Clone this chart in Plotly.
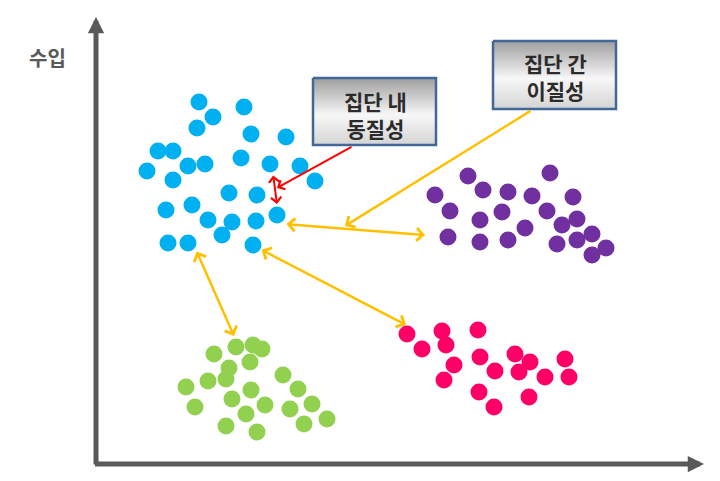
import plotly.graph_objects as go

# Cluster point positions (picture coordinates, y measured downward)
blue_x = [199, 213, 244, 197, 251, 286, 158, 173, 147, 188, 205, 173, 241, 270, 300, 315, 229, 257, 166, 192, 208, 232, 222, 256, 277, 168, 188, 253]
blue_y = [102, 117, 107, 128, 134, 137, 151, 151, 171, 166, 164, 180, 158, 164, 166, 181, 193, 195, 210, 205, 220, 222, 235, 221, 215, 243, 243, 245]

purple_x = [468, 550, 435, 483, 508, 532, 573, 450, 502, 547, 480, 562, 577, 525, 448, 480, 508, 557, 577, 592, 592, 606]
purple_y = [176, 173, 195, 190, 192, 196, 197, 211, 212, 211, 220, 225, 219, 228, 237, 242, 240, 244, 240, 234, 255, 248]

pink_x = [407, 442, 478, 422, 446, 454, 480, 515, 530, 565, 444, 495, 519, 545, 569, 479, 529, 494]
pink_y = [334, 331, 330, 349, 345, 365, 357, 354, 362, 359, 380, 371, 372, 377, 377, 392, 397, 407]

green_x = [214, 236, 253, 262, 250, 229, 208, 226, 186, 283, 298, 251, 232, 195, 265, 246, 290, 312, 304, 327, 226, 257]
green_y = [354, 347, 345, 349, 362, 368, 381, 379, 387, 375, 389, 390, 399, 407, 405, 414, 409, 404, 424, 419, 426, 432]

axis_label = "수입"
box1_lines = ["집단 내", "동질성"]
box2_lines = ["집단 간", "이질성"]

FONT = "Noto Sans CJK KR"

fig = go.Figure()

# Gradient label boxes
def add_box(x0, x1, y0, y1):
    fig.add_trace(go.Scatter(
        x=[x0, x1, x1, x0, x0], y=[y0, y0, y1, y1, y0],
        mode="lines", fill="toself",
        fillgradient=dict(type="vertical",
                          colorscale=[[0, "#d4d4d4"], [0.45, "#f7f7f7"], [1, "#9e9e9e"]]),
        line=dict(color="#42689A", width=2.5),
        hoverinfo="skip", showlegend=False))

add_box(313, 436, 78, 145)
add_box(493, 616, 41, 109)

for xs, ys, col in [(blue_x, blue_y, "#00B0F0"), (purple_x, purple_y, "#7030A0"),
                    (pink_x, pink_y, "#FF0066"), (green_x, green_y, "#92D050")]:
    fig.add_trace(go.Scatter(x=xs, y=ys, mode="markers",
                             marker=dict(color=col, size=17, line=dict(width=0)),
                             showlegend=False, hoverinfo="skip"))

ann = []
# axes with arrowheads
ann.append(dict(x=96, y=17, ax=96, ay=466, xref="x", yref="y", axref="x", ayref="y",
                text="", showarrow=True, arrowhead=2, arrowsize=0.65, arrowwidth=5, arrowcolor="#595959"))
ann.append(dict(x=704, y=464, ax=93.5, ay=464, xref="x", yref="y", axref="x", ayref="y",
                text="", showarrow=True, arrowhead=2, arrowsize=0.65, arrowwidth=5, arrowcolor="#595959"))

def arrow(x, y, ax, ay, color, both=False, width=2.5):
    d = dict(x=x, y=y, ax=ax, ay=ay, xref="x", yref="y", axref="x", ayref="y",
             text="", showarrow=True, arrowhead=4, arrowsize=1, arrowwidth=width,
             arrowcolor=color, standoff=0)
    if both:
        d.update(arrowside="end+start", startarrowhead=4, startarrowsize=1)
    ann.append(d)

ORANGE = "#FFC000"
RED = "#FF0000"
arrow(277, 188, 353, 146, RED, width=2)
arrow(277, 204, 273, 174, RED, both=True, width=2)
arrow(345, 226, 532, 110, ORANGE)
arrow(425, 235, 285, 224, ORANGE, both=True)
arrow(234, 336, 196, 250, ORANGE, both=True)
arrow(406, 325, 260, 249, ORANGE, both=True)

# texts
ann.append(dict(x=47, y=57, xref="x", yref="y", text="<b>" + axis_label + "</b>", showarrow=False,
                font=dict(family=FONT, size=20, color="#595959")))
ann.append(dict(x=375, y=114, xref="x", yref="y", text="<b>" + "<br>".join(box1_lines) + "</b>",
                showarrow=False, font=dict(family=FONT, size=21, color="#2b2b2b")))
ann.append(dict(x=555, y=76, xref="x", yref="y", text="<b>" + "<br>".join(box2_lines) + "</b>",
                showarrow=False, font=dict(family=FONT, size=21, color="#2b2b2b")))

fig.update_layout(
    width=720, height=481,
    margin=dict(l=0, r=0, t=0, b=0),
    paper_bgcolor="white", plot_bgcolor="white",
    xaxis=dict(range=[0, 720], visible=False, fixedrange=True),
    yaxis=dict(range=[481, 0], visible=False, fixedrange=True),
    annotations=ann,
    showlegend=False,
)

fig.write_html("out.html", config={"displayModeBar": False},
               post_script="document.body.style.margin='0';document.body.style.padding='0';")
